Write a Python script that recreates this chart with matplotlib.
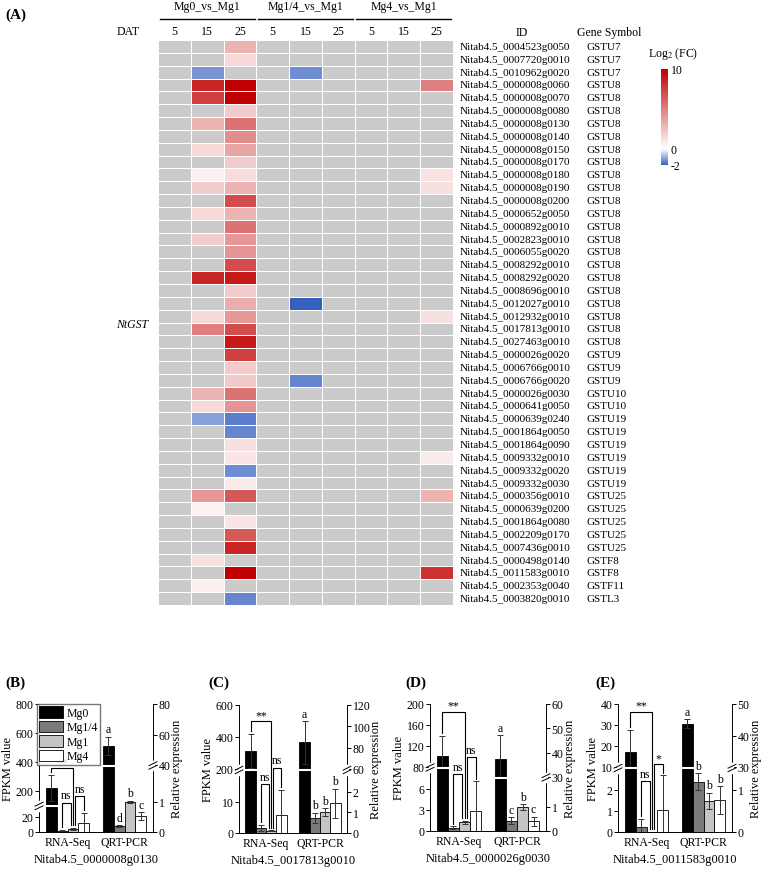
import numpy as np
import matplotlib
matplotlib.use('Agg')
import matplotlib.pyplot as plt
from matplotlib.colors import LinearSegmentedColormap, Normalize
from matplotlib.patches import Patch

plt.rcParams['font.family'] = ['Liberation Serif', 'DejaVu Serif']
plt.rcParams['mathtext.fontset'] = 'stix'

n = np.nan

# ---- heatmap data (log2 FC, nan = not significant) ----
gene_ids = [
    "0004523g0050", "0007720g0010", "0010962g0020", "0000008g0060", "0000008g0070",
    "0000008g0080", "0000008g0130", "0000008g0140", "0000008g0150", "0000008g0170",
    "0000008g0180", "0000008g0190", "0000008g0200", "0000652g0050", "0000892g0010",
    "0002823g0010", "0006055g0020", "0008292g0010", "0008292g0020", "0008696g0010",
    "0012027g0010", "0012932g0010", "0017813g0010", "0027463g0010", "0000026g0020",
    "0006766g0010", "0006766g0020", "0000026g0030", "0000641g0050", "0000639g0240",
    "0001864g0050", "0001864g0090", "0009332g0010", "0009332g0020", "0009332g0030",
    "0000356g0010", "0000639g0200", "0001864g0080", "0002209g0170", "0007436g0010",
    "0000498g0140", "0011583g0010", "0002353g0040", "0003820g0010",
]
gene_symbols = (["GSTU7"] * 3 + ["GSTU8"] * 21 + ["GSTU9"] * 3 + ["GSTU10"] * 2
                + ["GSTU19"] * 6 + ["GSTU25"] * 5 + ["GSTF8"] * 2 + ["GSTF11", "GSTL3"])

groups = ["Mg0_vs_Mg1", "Mg1/4_vs_Mg1", "Mg4_vs_Mg1"]
days = ["5", "15", "25"]

mg0_d5 = [n] * 44
mg0_d15 = [n, n, -1.3, 8.5, 7.5, n, 3.0, n, 1.5, n, 0.6, 2.0, n, 1.5, n, 2.0, n, n, 8.5, n,
           n, 1.5, 5.0, n, n, n, n, 3.0, 1.5, -1.2, n, n, n, n, n, 4.0, 0.5, n, n, n,
           1.2, n, 0.7, n]
mg0_d25 = [3.0, 1.5, n, 10, 10, 2.0, 5.5, 4.5, 3.5, 2.0, 1.4, 3.0, 7.0, 3.0, 5.5, 4.0, 4.2, 7.0, 9.0, 2.0,
           3.2, 4.0, 7.0, 9.0, 7.5, 2.0, 2.1, 5.5, 4.2, -1.6, -1.5, 1.2, 1.0, -1.4, 0.8, 6.5, n, 1.0, 6.5, 8.5,
           n, 10, n, -1.5]
mg14_d5 = [n] * 44
mg14_d15 = [n, n, -1.4, n, n, n, n, n, n, n, n, n, n, n, n, n, n, n, n, n,
            -2.0, n, n, n, n, n, -1.5, n, n, n, n, n, n, n, n, n, n, n, n, n,
            n, n, n, n]
mg14_d25 = [n] * 44
mg4_d5 = [n] * 44
mg4_d15 = [n] * 44
mg4_d25 = [n, n, n, 5.0, n, n, n, n, n, n, 1.1, 1.2, n, n, n, n, n, n, n, n,
           n, 1.2, n, n, n, n, n, n, n, n, n, n, 0.8, n, n, 3.0, n, n, n, n,
           n, 8.0, n, n]

# ---- bar panels (Mg0, Mg1/4, Mg1, Mg4) ----
treatments = ["Mg0", "Mg1/4", "Mg1", "Mg4"]

b_gene = "Nitab4.5_0000008g0130"
b_rna = [220, 2, 4, 12]
b_rna_err = [90, 1, 1.5, 14]
b_qrt = [52.5, 0.2, 1.0, 0.53]
b_qrt_err = [6, 0.03, 0.04, 0.13]
b_letters = ["a", "d", "b", "c"]
b_sig = ["**", "ns", "ns"]

c_gene = "Nitab4.5_0017813g0010"
c_rna = [312, 1.6, 0.7, 5.9]
c_rna_err = [107, 1.0, 0.2, 8.0]
c_qrt = [85, 0.73, 1.0, 1.45]
c_qrt_err = [20, 0.25, 0.2, 0.7]
c_letters = ["a", "b", "b", "b"]
c_sig = ["**", "ns", "ns"]

d_gene = "Nitab4.5_0000026g0030"
d_rna = [101, 0.5, 1.25, 2.9]
d_rna_err = [38, 0.2, 0.25, 4.2]
d_qrt = [37.5, 0.42, 1.0, 0.4]
d_qrt_err = [9.8, 0.15, 0.12, 0.2]
d_letters = ["a", "c", "b", "c"]
d_sig = ["**", "ns", "ns"]

e_gene = "Nitab4.5_0011583g0010"
e_rna = [17.1, 0.24, 0.0, 1.05]
e_rna_err = [10.5, 0.38, 0.0, 1.65]
e_qrt = [43.7, 1.2, 0.74, 0.76]
e_qrt_err = [1.4, 0.2, 0.2, 0.33]
e_letters = ["a", "b", "b", "b"]
e_sig = ["**", "ns", "*"]

W, H = 767, 870
fig = plt.figure(figsize=(W / 100, H / 100), dpi=100)


def px_axes(x0, y0, x1, y1):
    return fig.add_axes([x0 / W, 1 - y1 / H, (x1 - x0) / W, (y1 - y0) / H])


# =================== (A) heatmap ===================
hm = px_axes(158, 41, 453, 606)
values = np.array([mg0_d5, mg0_d15, mg0_d25, mg14_d5, mg14_d15, mg14_d25,
                   mg4_d5, mg4_d15, mg4_d25], dtype=float).T
cmap = LinearSegmentedColormap.from_list(
    'fc', [(0, '#3560c0'), (2 / 12, '#ffffff'), (1, '#c00000')])
cmap.set_bad('#cacbca')
mesh = hm.pcolormesh(np.arange(10), np.arange(45), np.ma.masked_invalid(values),
                     cmap=cmap, norm=Normalize(-2, 10), edgecolors='white', linewidth=0.6)
hm.set_xlim(0, 9)
hm.set_ylim(44, 0)
hm.axis('off')

for i in range(44):
    hm.text(1.024, i + 0.5, "Nitab4.5_" + gene_ids[i], transform=hm.get_yaxis_transform(),
            ha='left', va='center', fontsize=8)
    hm.text(1.454, i + 0.5, gene_symbols[i], transform=hm.get_yaxis_transform(),
            ha='left', va='center', fontsize=8)

for g, name in enumerate(groups):
    hm.text(g * 3 + 1.5, -2.65, name, ha='center', va='center', fontsize=8.5)
    hm.plot([g * 3 + 0.05, g * 3 + 2.95], [-1.65, -1.65], color='black', lw=1, clip_on=False)
    for j, d in enumerate(days):
        hm.text(g * 3 + j + 0.5, -0.72, d, ha='center', va='center', fontsize=8.5)
hm.text(-0.91, -0.72, "DAT", ha='center', va='center', fontsize=8.5)
hm.text(11.1, -0.62, "ID", ha='center', va='center', fontsize=8.5)
hm.text(13.78, -0.62, "Gene Symbol", ha='center', va='center', fontsize=8.5)

fig.text(148 / W, 1 - 325 / H, "NtGST", style='italic', ha='right', va='center', fontsize=8.5)
fig.text(5 / W, 1 - 15 / H, "(A)", fontweight='bold', fontsize=11, va='center')

cax = px_axes(661, 70, 668, 166)
cb = fig.colorbar(mesh, cax=cax, ticks=[-2, 0, 10])
cb.outline.set_visible(False)
cb.set_ticklabels(['-2', '0', '10'])
cax.tick_params(length=0, labelsize=8.5, pad=2)
fig.text(648 / W, 1 - 54 / H, "Log$_2$ (FC)", fontsize=8.5, va='center')


# =================== (B)-(E) bar panels ===================
def piecewise(vals, pos):
    vals = np.asarray(vals, float)
    pos = np.asarray(pos, float)

    def make(xs, ys):
        def f(y):
            y = np.asarray(y, float)
            out = np.interp(y, xs, ys)
            lo = (ys[1] - ys[0]) / (xs[1] - xs[0])
            hi = (ys[-1] - ys[-2]) / (xs[-1] - xs[-2])
            out = np.where(y < xs[0], ys[0] + (y - xs[0]) * lo, out)
            out = np.where(y > xs[-1], ys[-1] + (y - xs[-1]) * hi, out)
            return out
        return f
    return make(vals, pos), make(pos, vals)


def break_mark(a, x, yf):
    a.plot([x, x], [yf - 0.03, yf + 0.03], transform=a.transAxes, color='white',
           lw=2.5, clip_on=False, zorder=6)
    for d in (-0.014, 0.014):
        a.plot([x - 0.035, x + 0.035], [yf + d - 0.015, yf + d + 0.015], transform=a.transAxes,
               color='black', lw=0.7, clip_on=False, zorder=7)


colors = ['black', '#7a7a7a', '#c4c4c4', 'white']
bw = 0.19
offs = (np.arange(4) - 1.5) * bw


def draw_panel(box, label, lx, gene, rna, rna_err, qrt, qrt_err, letters, sig, levels,
               lk, rk, lticks, rticks, legend=False):
    ax = px_axes(*box)
    ax2 = ax.twinx()
    brk = []
    for a, k, t in ((ax, lk, lticks), (ax2, rk, rticks)):
        f, inv = piecewise(*k)
        a.set_yscale('function', functions=(f, inv))
        a.set_ylim(k[0][0], k[0][-1])
        a.set_yticks(t, labels=[f'{v:g}' for v in t])
        a.tick_params(axis='y', labelsize=8.5, length=3, width=0.7, pad=1)
        brk.append((k[1][1] + k[1][2]) / 2 / k[1][-1])
    ax.set_xlim(-0.5, 1.5)
    ax.set_xticks([0, 1], labels=["RNA-Seq", "QRT-PCR"])
    ax.tick_params(axis='x', length=0, labelsize=8.5, pad=3)
    ax.spines['top'].set_visible(False)
    ax.spines['right'].set_visible(False)
    for s in ('top', 'left', 'bottom'):
        ax2.spines[s].set_visible(False)
    for s in ('left', 'bottom'):
        ax.spines[s].set_linewidth(0.7)
    ax2.spines['right'].set_linewidth(0.7)

    ekw = dict(ecolor='#333333', elinewidth=0.7, capsize=2, capthick=0.7)
    for i in range(4):
        ax.bar(offs[i], rna[i], bw, color=colors[i], edgecolor='black', lw=0.6,
               yerr=[[min(rna_err[i], rna[i])], [rna_err[i]]], error_kw=ekw, zorder=2)
        ax2.bar(1 + offs[i], qrt[i], bw, color=colors[i], edgecolor='black', lw=0.6,
                yerr=[[min(qrt_err[i], qrt[i])], [qrt_err[i]]], error_kw=ekw, zorder=2)
        ax2.annotate(letters[i], (1 + offs[i], qrt[i] + qrt_err[i]), xytext=(0, 1),
                     textcoords='offset points', ha='center', va='bottom', fontsize=8.5)

    # white break lines through the tall bars
    ax.plot([offs[0] - bw / 2, offs[0] + bw / 2], [brk[0], brk[0]],
            transform=ax.get_xaxis_transform(), color='white', lw=1.5, zorder=5)
    ax2.plot([1 + offs[0] - bw / 2, 1 + offs[0] + bw / 2], [brk[1], brk[1]],
             transform=ax2.get_xaxis_transform(), color='white', lw=1.5, zorder=5)
    break_mark(ax, 0, brk[0])
    break_mark(ax2, 1, brk[1])

    # significance brackets vs Mg1
    to_ax = ax.transData + ax.transAxes.inverted()

    def frac(i):
        return to_ax.transform((0, rna[i] + rna_err[i]))[1]

    pairs = [(0, 2, 0.0, 0.0), (1, 2, 0.0, -0.04), (2, 3, 0.04, 0.0)]
    bt = ax.get_xaxis_transform()
    for (i, j, d1, d2), mark, top in zip(pairs, sig, levels):
        x1, x2 = offs[i] + d1, offs[j] + d2
        y1 = min(frac(i) + 0.02, top - 0.03)
        y2 = min(frac(j) + 0.02, top - 0.03)
        ax.plot([x1, x1, x2, x2], [y1, top, top, y2], transform=bt, color='black',
                lw=0.8, clip_on=False, zorder=4)
        ax.text((x1 + x2) / 2, top + (0.0 if mark.startswith('*') else 0.01), mark,
                transform=bt, ha='center', va='bottom', fontsize=8.5)

    ax.set_ylabel("FPKM value", fontsize=9, labelpad=1)
    ax2.set_ylabel("Relative expression", fontsize=9, labelpad=0)
    ax.text(0.5, -0.21, gene, transform=ax.transAxes, ha='center', va='center', fontsize=9)
    fig.text(lx / W, 1 - 683 / H, label, fontweight='bold', fontsize=11, va='center')

    if legend:
        handles = [Patch(facecolor=c, edgecolor='black', lw=0.6) for c in colors]
        ax2.legend(handles, treatments, loc='upper left', bbox_to_anchor=(-0.02, 1.0),
                   fontsize=8.5, frameon=True, fancybox=False, edgecolor='#555555',
                   handlelength=2.0, handleheight=1.1, labelspacing=0.15, borderpad=0.2,
                   handletextpad=0.3, borderaxespad=0)
    return ax, ax2


draw_panel((39, 705, 153, 833), "(B)", 5, b_gene, b_rna, b_rna_err, b_qrt, b_qrt_err,
           b_letters, b_sig, (0.50, 0.23, 0.28),
           ([0, 34, 100, 800], [0, 25.5, 26.5, 128]), ([0, 2.2, 40, 80], [0, 66, 67, 128]),
           [0, 20, 200, 400, 600, 800], [0, 1, 40, 60, 80], legend=True)
draw_panel((239, 706, 347, 834), "(C)", 208, c_gene, c_rna, c_rna_err, c_qrt, c_qrt_err,
           c_letters, c_sig, (0.875, 0.38, 0.51),
           ([0, 20, 200, 600], [0, 62, 64, 128]), ([0, 3, 60, 120], [0, 62, 64, 128]),
           [0, 10, 200, 400, 600], [0, 1, 2, 60, 80, 100, 120])
draw_panel((430, 705, 546, 832), "(D)", 405, d_gene, d_rna, d_rna_err, d_qrt, d_qrt_err,
           d_letters, d_sig, (0.94, 0.45, 0.58),
           ([0, 9, 80, 200], [0, 63, 64, 127]), ([0, 2.2, 30, 60], [0, 53, 54, 127]),
           [0, 3, 6, 80, 120, 160, 200], [0, 1, 30, 40, 50, 60])
draw_panel((618, 705, 732, 833), "(E)", 595, e_gene, e_rna, e_rna_err, e_qrt, e_qrt_err,
           e_letters, e_sig, (0.94, 0.40, 0.53),
           ([0, 3, 10, 40], [0, 63, 65, 128]), ([0, 1.5, 30, 50], [0, 63, 65, 128]),
           [0, 1, 2, 10, 20, 30, 40], [0, 1, 30, 40, 50])

fig.savefig("out.png", dpi=100)
